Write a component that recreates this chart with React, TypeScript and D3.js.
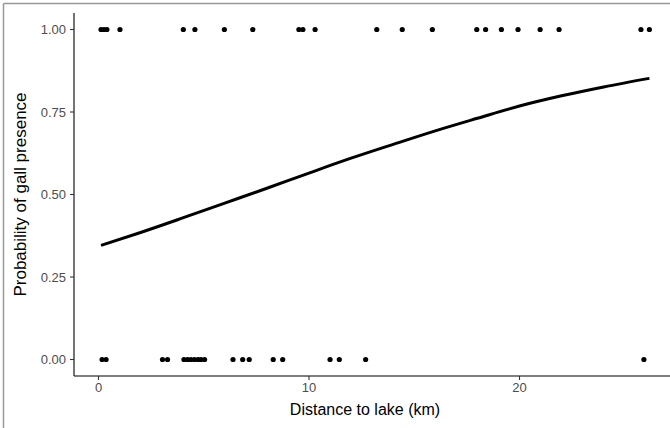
import React from "react";
import * as d3 from "d3";

// Observed galls (1 = present, 0 = absent) by distance to lake (km)
const presentDistances = [0.12, 0.26, 0.4, 1.02, 4.03, 4.58, 5.98, 7.33, 9.52, 9.71, 10.29, 13.22, 14.43, 15.86, 17.97, 18.39, 19.14, 19.93, 20.98, 21.88, 25.77, 26.17];
const absentDistances = [0.17, 0.36, 3.04, 3.28, 4.06, 4.23, 4.39, 4.56, 4.73, 4.87, 5.04, 6.39, 6.85, 7.16, 8.3, 8.75, 11.0, 11.44, 12.69, 25.91];

// Fitted probability curve
const curveX = [0.12, 2, 4, 6, 8, 10, 12, 14, 16, 18, 20, 22, 24, 26.17];
const curveY = [0.346, 0.385, 0.429, 0.474, 0.519, 0.565, 0.61, 0.652, 0.693, 0.731, 0.768, 0.799, 0.826, 0.852];

const xTicks = [0, 10, 20];
const yTicks = [0, 0.25, 0.5, 0.75, 1];

export default function App() {
  const W = 670, H = 428;
  const left = 74, top = 13, bottom = 376;
  const x = d3.scaleLinear().domain([0, 20]).range([98.5, 519.5]);
  const y = d3.scaleLinear().domain([0, 1]).range([359.5, 29.5]);
  const right = x(27.45);
  const line = d3.line<number>().x((_, i) => x(curveX[i])).y((d) => y(d)).curve(d3.curveMonotoneX);
  const font = "'Liberation Sans', Arial, sans-serif";
  return (
    <svg width={W} height={H} style={{ position: "absolute", left: 0, top: 0, background: "#fff" }} fontFamily={font}>
      <rect x={0} y={0} width={W} height={H} fill="#fff" />
      <line x1={3.5} x2={W} y1={3.5} y2={3.5} stroke="#999" strokeWidth={1.5} />
      <line x1={3.5} x2={3.5} y1={3.5} y2={H} stroke="#999" strokeWidth={1.5} />
      {/* axes */}
      <line x1={left} x2={left} y1={top} y2={bottom} stroke="#000" strokeWidth={1.1} />
      <line x1={left} x2={right} y1={bottom} y2={bottom} stroke="#000" strokeWidth={1.1} />
      {yTicks.map((t) => (
        <g key={"y" + t}>
          <line x1={left - 4} x2={left} y1={y(t)} y2={y(t)} stroke="#333" strokeWidth={1.1} />
          <text x={left - 8} y={y(t)} dy="0.35em" textAnchor="end" fontSize={13} fill="#4D4D4D">
            {d3.format(".2f")(t)}
          </text>
        </g>
      ))}
      {xTicks.map((t) => (
        <g key={"x" + t}>
          <line x1={x(t)} x2={x(t)} y1={bottom} y2={bottom + 4} stroke="#333" strokeWidth={1.1} />
          <text x={x(t)} y={bottom + 16} textAnchor="middle" fontSize={13} fill="#4D4D4D">
            {t}
          </text>
        </g>
      ))}
      <path d={line(curveY) || ""} fill="none" stroke="#000" strokeWidth={3} />
      {presentDistances.map((d, i) => (
        <circle key={"p" + i} cx={x(d)} cy={y(1)} r={2.6} fill="#000" />
      ))}
      {absentDistances.map((d, i) => (
        <circle key={"a" + i} cx={x(d)} cy={y(0)} r={2.6} fill="#000" />
      ))}
      <text x={365} y={415} textAnchor="middle" fontSize={16} fill="#000">
        Distance to lake (km)
      </text>
      <text transform={`translate(26,${(top + bottom) / 2}) rotate(-90)`} textAnchor="middle" fontSize={17} fill="#000">
        Probability of gall presence
      </text>
    </svg>
  );
}
